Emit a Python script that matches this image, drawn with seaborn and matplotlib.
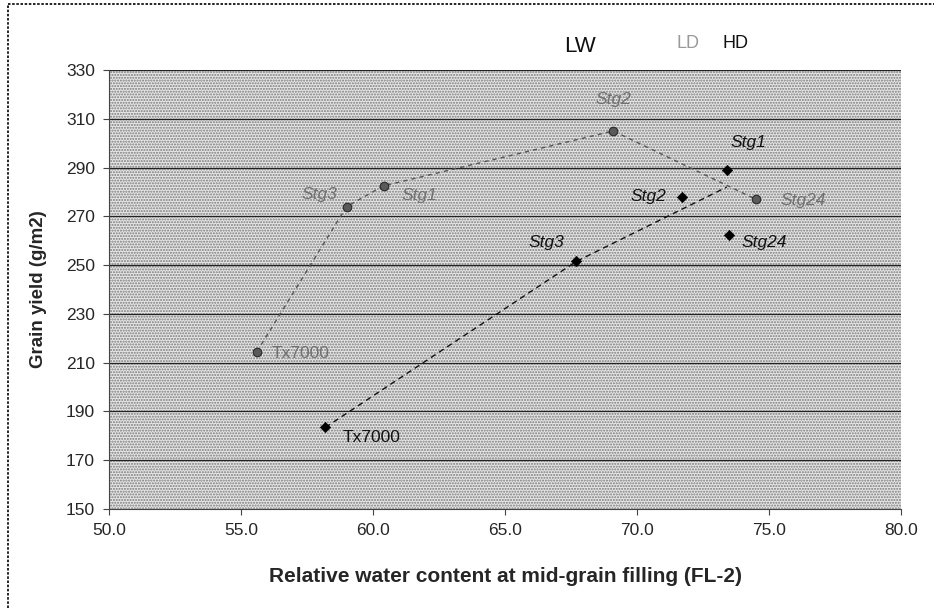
import pandas as pd
import matplotlib
matplotlib.use("Agg")
import matplotlib.pyplot as plt
import seaborn as sns
from matplotlib.patches import Rectangle
from matplotlib.lines import Line2D

# genotypes, in the order the dashed line joins them
genotypes = ["Tx7000", "Stg3", "Stg1", "Stg2", "Stg24"]

# LW series
lw_rwc = [55.6, 59.0, 60.4, 69.1, 74.5]
lw_yield = [214.5, 274.0, 282.5, 305.0, 277.0]

# HD series
hd_rwc = [58.2, 67.7, 73.4, 71.7, 73.5]
hd_yield = [183.5, 251.5, 289.0, 278.0, 262.5]

# HD dashed connector as drawn in the original
hd_path_rwc = [58.2, 67.7, 73.4]
hd_path_yield = [183.5, 251.5, 282.0]

legend_labels = ["LW", "LD", "HD"]
x_ticks = [50, 55, 60, 65, 70, 75, 80]
y_ticks = [150, 170, 190, 210, 230, 250, 270, 290, 310, 330]

# label offsets in points (dx, dy, ha)
lw_offsets = [(11, -1, "left"), (-7, 9, "right"), (13, -7, "left"),
              (0, 23, "center"), (18, -1, "left")]
hd_offsets = [(12, -7, "left"), (-9, 14, "right"), (3, 20, "left"),
              (-11, 0, "right"), (9, -6, "left")]

sns.set_theme(style="white")
plt.rcParams["font.family"] = ["Liberation Sans", "DejaVu Sans"]

lw = pd.DataFrame({"genotype": genotypes, "rwc": lw_rwc, "grain": lw_yield})
hd = pd.DataFrame({"genotype": genotypes, "rwc": hd_rwc, "grain": hd_yield})
hd_path = pd.DataFrame({"rwc": hd_path_rwc, "grain": hd_path_yield})

fig = plt.figure(figsize=(9.34, 6.08), dpi=100)
ax = fig.add_axes([0.1167, 0.1628, 0.848, 0.7221])

# halftone-like plot background
ax.set_facecolor("white")
bg = Rectangle((0, 0), 1, 1, transform=ax.transAxes, facecolor="#e6e6e6",
               hatch="......", edgecolor="#7a7a7a", linewidth=0, zorder=0)
ax.add_patch(bg)

for yv in y_ticks[1:]:
    ax.axhline(yv, color="#222222", lw=0.9, zorder=1)

sns.lineplot(data=lw, x="rwc", y="grain", sort=False, ax=ax, color="#555555",
             lw=1.0, linestyle=(0, (3, 3)), zorder=2)
sns.lineplot(data=hd_path, x="rwc", y="grain", sort=False, ax=ax,
             color="#111111", lw=1.0, linestyle=(0, (4, 3)), zorder=2)

sns.scatterplot(data=lw, x="rwc", y="grain", ax=ax, marker="o", s=38,
                color="#5a5a5a", edgecolor="#2a2a2a", linewidth=0.8, zorder=3)
sns.scatterplot(data=hd, x="rwc", y="grain", ax=ax, marker="D", s=28,
                color="#000000", edgecolor="#000000", zorder=3)

for i, g in enumerate(genotypes):
    dx, dy, ha = lw_offsets[i]
    ax.annotate(g, (lw_rwc[i], lw_yield[i]), xytext=(dx, dy),
                textcoords="offset points", ha=ha, va="center",
                fontsize=12.5, color="#707070",
                style="normal" if g == "Tx7000" else "italic", zorder=4)
    dx, dy, ha = hd_offsets[i]
    ax.annotate(g, (hd_rwc[i], hd_yield[i]), xytext=(dx, dy),
                textcoords="offset points", ha=ha, va="center",
                fontsize=12.5, color="#111111",
                style="normal" if g == "Tx7000" else "italic", zorder=4)

ax.set_xlim(50, 80)
ax.set_ylim(150, 330)
ax.set_xticks(x_ticks)
ax.set_xticklabels([f"{v:.1f}" for v in x_ticks], fontsize=12.5)
ax.set_yticks(y_ticks)
ax.set_yticklabels([str(v) for v in y_ticks], fontsize=12.5)
ax.tick_params(axis="both", direction="out", length=4, width=0.8,
               color="#444444", pad=6, bottom=True, left=True)

ax.set_xlabel("Relative water content at mid-grain filling (FL-2)",
              fontsize=15, fontweight="bold", labelpad=21)
ax.set_ylabel("Grain yield (g/m2)", fontsize=13.5, fontweight="bold",
              labelpad=14)

for side in ["top", "right"]:
    ax.spines[side].set_visible(False)
for side in ["left", "bottom"]:
    ax.spines[side].set_color("#444444")
    ax.spines[side].set_linewidth(0.8)

# legend text (symbols were invisible in the source)
fig.text(580 / 934, 1 - 46 / 608, legend_labels[0], fontsize=16,
         ha="center", va="center", color="#111111")
fig.text(688 / 934, 1 - 43 / 608, legend_labels[1], fontsize=13,
         ha="center", va="center", color="#9a9a9a")
fig.text(736 / 934, 1 - 43 / 608, legend_labels[2], fontsize=13,
         ha="center", va="center", color="#111111")

# dotted frame (top and left)
fig.add_artist(Line2D([8 / 934, 1], [1 - 4 / 608, 1 - 4 / 608],
                      transform=fig.transFigure, color="black", lw=1.2,
                      linestyle=(0, (1.5, 1))))
fig.add_artist(Line2D([8 / 934, 8 / 934], [0, 1 - 4 / 608],
                      transform=fig.transFigure, color="black", lw=1.2,
                      linestyle=(0, (1.5, 1))))

fig.savefig("out.png", dpi=100)
